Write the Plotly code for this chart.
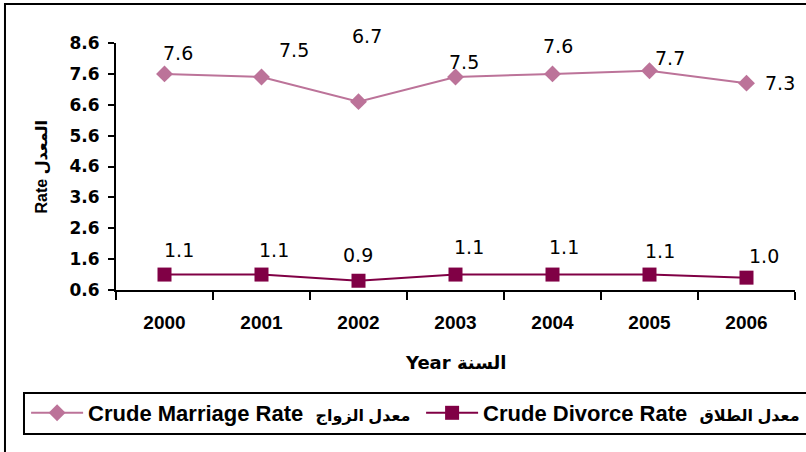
import plotly.graph_objects as go

# data
years = [2000, 2001, 2002, 2003, 2004, 2005, 2006]
marriage_rate = [7.6, 7.5, 6.7, 7.5, 7.6, 7.7, 7.3]
divorce_rate = [1.1, 1.1, 0.9, 1.1, 1.1, 1.1, 1.0]
y_ticks = [0.6, 1.6, 2.6, 3.6, 4.6, 5.6, 6.6, 7.6, 8.6]

MARRIAGE_COLOR = '#BC7399'
DIVORCE_COLOR = '#800045'
WIDE = 'DejaVu Sans, sans-serif'
PLAIN = 'Liberation Sans, Arial, DejaVu Sans, sans-serif'

# label offsets (px) as placed in the original, (dx, dy up)
marriage_offsets = [(13, 21), (32, 27), (8, 66), (8, 15), (5, 28), (20, 13), (33, 0)]
divorce_offsets = [(14, 25), (12, 25), (-1, 26), (13, 28), (11, 28), (10, 24), (17, 22)]


def legend_name(en, ar):
    return f'<b>{en}  <span style="font-size:16px">{ar}</span></b>'


fig = go.Figure()
fig.add_trace(go.Scatter(
    x=years, y=marriage_rate, mode='lines+markers',
    name=legend_name('Crude Marriage Rate', 'معدل الزواج'),
    line=dict(color=MARRIAGE_COLOR, width=2),
    marker=dict(symbol='diamond', size=13, color=MARRIAGE_COLOR),
    cliponaxis=False,
))
fig.add_trace(go.Scatter(
    x=years, y=divorce_rate, mode='lines+markers',
    name=legend_name('Crude Divorce Rate', 'معدل الطلاق'),
    line=dict(color=DIVORCE_COLOR, width=2),
    marker=dict(symbol='square', size=14, color=DIVORCE_COLOR),
    cliponaxis=False,
))

annotations = []
for vals, offs in ((marriage_rate, marriage_offsets), (divorce_rate, divorce_offsets)):
    for yr, v, (dx, dy) in zip(years, vals, offs):
        annotations.append(dict(
            x=yr, y=v, text=f'{v:.1f}', showarrow=False,
            xshift=dx, yshift=dy, font=dict(size=19, color='black', family=WIDE),
        ))

# axis titles
annotations.append(dict(
    xref='paper', yref='paper', x=-0.109, y=0.5, xanchor='center', yanchor='middle',
    text='<b>Rate المعدل</b>', textangle=-90, showarrow=False,
    font=dict(size=16, color='black', family=PLAIN),
))
annotations.append(dict(
    xref='paper', yref='paper', x=0.5, y=-0.2915, xanchor='center', yanchor='middle',
    text='<b>Year السنة</b>', showarrow=False,
    font=dict(size=18, color='black', family=WIDE),
))

fig.update_layout(
    width=806, height=452,
    margin=dict(l=116, r=11, t=43, b=162, autoexpand=False),
    paper_bgcolor='white', plot_bgcolor='white',
    font=dict(family=PLAIN, color='black'),
    showlegend=True,
    legend=dict(
        orientation='h', x=-0.1324, y=-0.498, xanchor='left', yanchor='middle',
        font=dict(size=22, family=PLAIN), bgcolor='rgba(0,0,0,0)',
        itemwidth=52, entrywidth=328,
    ),
    annotations=annotations,
    shapes=[
        # outer chart frame (cropped at right and bottom)
        dict(type='rect', xref='paper', yref='paper', x0=-0.1635, x1=1.2,
             y0=-1.0, y1=1.158, line=dict(color='black', width=2), layer='below'),
        # legend box
        dict(type='rect', xref='paper', yref='paper', x0=-0.1355, x1=1.2,
             y0=-0.583, y1=-0.417, line=dict(color='black', width=2), layer='below'),
    ],
)

boundaries = [y - 0.5 for y in years] + [years[-1] + 0.5]
fig.update_xaxes(
    range=[years[0] - 0.5, years[-1] + 0.5],
    tickvals=years, ticktext=[f'<b>{y}</b>' for y in years],
    showline=True, linecolor='black', linewidth=2, ticks='',
    minor=dict(tickvals=boundaries, ticks='outside', ticklen=8,
               tickcolor='black', tickwidth=2, showgrid=False),
    ticklabelstandoff=14,
    tickfont=dict(size=19, family=PLAIN), showgrid=False, zeroline=False,
)
fig.update_yaxes(
    range=[0.6, 8.6], tickvals=y_ticks, ticktext=[f'<b>{t:.1f}</b>' for t in y_ticks],
    showline=True, linecolor='black', linewidth=2,
    ticks='outside', ticklen=6, tickcolor='black', tickwidth=2, ticklabelstandoff=5,
    tickfont=dict(size=17, family=WIDE), showgrid=False, zeroline=False,
)

# drop the default page margin so the figure sits at the window's corner
fig.write_html('out.html', config={'displayModeBar': False},
               post_script="document.body.style.margin='0px';")
